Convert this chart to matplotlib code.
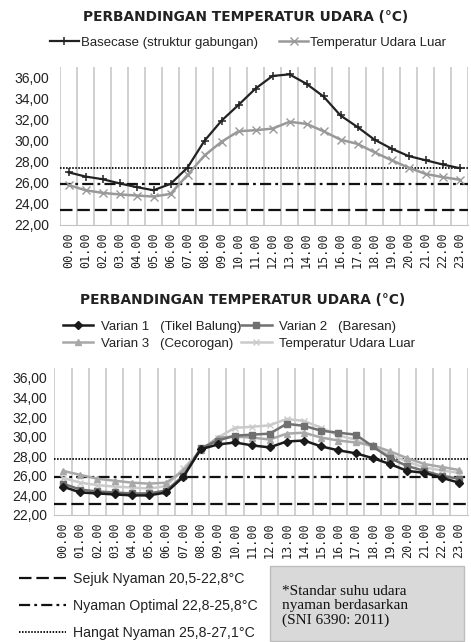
import matplotlib
matplotlib.use('Agg')
import matplotlib.pyplot as plt
from matplotlib.lines import Line2D
from matplotlib.patches import Rectangle
import numpy as np

plt.rcParams['lines.scale_dashes'] = False

# ---------------- data ----------------
hours = ["%02d.00" % h for h in range(24)]
yticks = [22, 24, 26, 28, 30, 32, 34, 36]
ytick_labels = ["22,00", "24,00", "26,00", "28,00", "30,00", "32,00", "34,00", "36,00"]

title_text = "PERBANDINGAN TEMPERATUR UDARA (°C)"

basecase = [27.0, 26.6, 26.35, 25.95, 25.6, 25.3, 25.9, 27.45, 30.0, 31.9, 33.4, 34.95,
            36.15, 36.3, 35.4, 34.2, 32.4, 31.3, 30.1, 29.25, 28.55, 28.15, 27.75, 27.4]
outdoor = [25.8, 25.3, 25.05, 24.9, 24.8, 24.7, 24.95, 26.75, 28.6, 29.9, 30.9, 31.0,
           31.15, 31.8, 31.6, 30.9, 30.1, 29.7, 28.9, 28.15, 27.45, 26.85, 26.55, 26.3]

varian1 = [24.9, 24.3, 24.2, 24.1, 24.0, 24.0, 24.3, 25.9, 28.7, 29.2, 29.4, 29.1,
           28.9, 29.5, 29.6, 29.0, 28.6, 28.3, 27.8, 27.2, 26.5, 26.3, 25.8, 25.3]
varian2 = [25.2, 24.6, 24.4, 24.3, 24.2, 24.2, 24.5, 26.0, 28.8, 29.6, 30.1, 30.2,
           30.3, 31.3, 31.1, 30.6, 30.4, 30.2, 29.0, 27.8, 27.0, 26.5, 26.0, 25.7]
varian3 = [26.5, 26.1, 25.7, 25.5, 25.3, 25.2, 25.3, 26.5, 28.6, 29.9, 30.0, 29.9,
           29.7, 30.3, 30.4, 29.9, 29.6, 29.4, 29.1, 28.5, 27.8, 27.2, 26.9, 26.6]

top_ref = [23.4, 25.9, 27.4]
bottom_ref = [23.1, 25.9, 27.7]
ref_labels = ["Sejuk Nyaman 20,5-22,8°C", "Nyaman Optimal 22,8-25,8°C", "Hangat Nyaman 25,8-27,1°C"]

top_labels = ["Basecase (struktur gabungan)", "Temperatur Udara Luar"]
bottom_labels = ["Varian 1   (Tikel Balung)", "Varian 2   (Baresan)",
                 "Varian 3   (Cecorogan)", "Temperatur Udara Luar"]
note_text = "*Standar suhu udara\nnyaman berdasarkan\n(SNI 6390: 2011)"

# ---------------- layout ----------------
W, H = 471, 642
fig = plt.figure(figsize=(W / 100, H / 100), dpi=100)
fig.patch.set_facecolor('white')


def fx(px):
    return px / W


def fy(py):
    return 1 - py / H


ref_styles = [
    dict(color='#111111', lw=1.6, dashes=(9, 3.5)),
    dict(color='#111111', lw=1.6, dashes=(8, 3, 2, 3)),
    dict(color='#111111', lw=1.4, dashes=(1.1, 1.1)),
]


def style_axes(ax, ypad):
    ax.set_xlim(-0.5, 23.5)
    ax.set_ylim(22, 37)
    ax.set_xticks(range(24))
    ax.set_xticklabels(hours, rotation=90, fontfamily='DejaVu Sans Mono', fontsize=8.5, color='#222222')
    ax.set_xticks(np.arange(-0.5, 24, 1), minor=True)
    ax.grid(True, which='minor', axis='x', color='#c4c4c4', lw=1.1)
    ax.set_yticks(yticks)
    ax.set_yticklabels(ytick_labels, fontfamily='Liberation Sans', fontsize=10, color='#222222')
    ax.tick_params(which='both', length=0)
    ax.tick_params(axis='x', pad=5)
    ax.tick_params(axis='y', pad=ypad)
    for s in ['top', 'right', 'left']:
        ax.spines[s].set_visible(False)
    ax.spines['bottom'].set_color('#c4c4c4')
    ax.set_axisbelow(True)


def ref_lines(ax, vals):
    for v, st in zip(vals, ref_styles):
        ax.axhline(v, zorder=1.8, **st)


x = np.arange(24)

# ---------------- top chart ----------------
ax1 = fig.add_axes([fx(60), fy(225), (468 - 60) / W, (225 - 67) / H])
style_axes(ax1, 8)
ref_lines(ax1, top_ref)
l1, = ax1.plot(x, basecase, color='#222222', lw=1.6, marker='+', ms=6, mew=1.1, zorder=4)
l2, = ax1.plot(x, outdoor, color='#999999', lw=1.8, marker='x', ms=5.5, mew=1.0, zorder=3)

fig.text(fx(246), fy(17), title_text, ha='center', va='center', fontfamily='DejaVu Sans',
         fontweight='bold', fontsize=9.9, color='#222222')
fig.legend([l1, l2], top_labels, loc='center', bbox_to_anchor=(fx(248), fy(43)), ncol=2,
           frameon=False, prop={'family': 'Liberation Sans', 'size': 9.5},
           handlelength=2.2, handletextpad=0.15, columnspacing=1.6, borderpad=0, labelcolor='#222222')

# ---------------- bottom chart ----------------
ax2 = fig.add_axes([fx(54.3), fy(515), (467.5 - 54.3) / W, (515 - 368) / H])
style_axes(ax2, 5)
ref_lines(ax2, bottom_ref)
o2, = ax2.plot(x, outdoor, color='#cacaca', lw=1.8, marker='x', ms=5, mew=1.0, zorder=3)
v3, = ax2.plot(x, varian3, color='#a8a8a8', lw=1.8, marker='^', ms=5, zorder=4)
v2, = ax2.plot(x, varian2, color='#707070', lw=1.8, marker='s', ms=5, zorder=5)
v1, = ax2.plot(x, varian1, color='#1a1a1a', lw=1.8, marker='D', ms=3.8, zorder=6)

fig.text(fx(243), fy(300), title_text, ha='center', va='center', fontfamily='DejaVu Sans',
         fontweight='bold', fontsize=9.9, color='#222222')
fig.legend([v1, v3, v2, o2], [bottom_labels[0], bottom_labels[2], bottom_labels[1], bottom_labels[3]],
           loc='center', bbox_to_anchor=(fx(239), fy(335)), ncol=2,
           frameon=False, prop={'family': 'Liberation Sans', 'size': 9.5},
           handlelength=2.3, handletextpad=0.6, columnspacing=0.0, labelspacing=0.35,
           borderpad=0, labelcolor='#222222')

# ---------------- comfort legend ----------------
ref_handles = [Line2D([0], [0], **st) for st in ref_styles]
fig.legend(ref_handles, ref_labels, loc='center left', bbox_to_anchor=(fx(12), fy(606)),
           frameon=False, prop={'family': 'Liberation Sans', 'size': 10.2},
           handlelength=3.3, handletextpad=0.5, labelspacing=0.9, borderpad=0,
           labelcolor='#222222')

# ---------------- note box ----------------
fig.add_artist(Rectangle((fx(270), fy(641)), (464 - 270) / W, (641 - 566) / H,
                         transform=fig.transFigure, facecolor='#d9d9d9', edgecolor='#bdbdbd', lw=1))
fig.text(fx(282), fy(606), note_text, ha='left', va='center', fontfamily='Liberation Serif',
         fontsize=11, linespacing=1.1, color='#111111')

fig.savefig('out.png', dpi=100)
